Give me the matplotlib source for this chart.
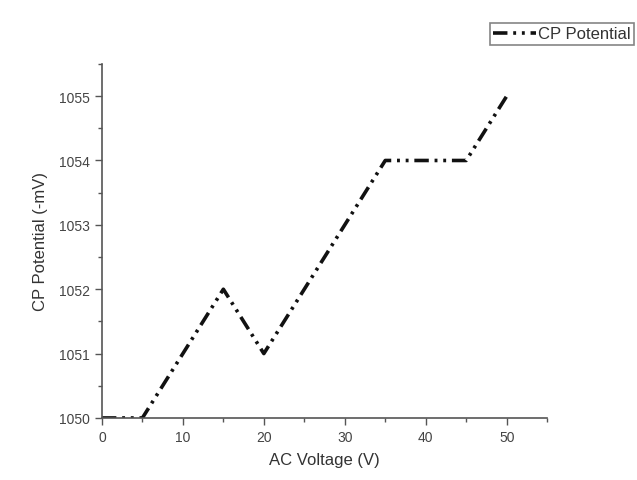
import matplotlib.pyplot as plt
from matplotlib.ticker import MultipleLocator

plt.rcParams['font.family'] = ['Liberation Sans', 'DejaVu Sans']

# data
ac_voltage = [0, 5, 15, 20, 35, 45, 50]
cp_potential = [1050, 1050, 1052, 1051, 1054, 1054, 1055]

fig = plt.figure(figsize=(6.37, 4.81), dpi=100)
ax = fig.add_axes([0.160, 0.129, 0.699, 0.736])

line, = ax.plot(ac_voltage, cp_potential, color='#111111', lw=2.6,
                linestyle=(0, (4, 1.6, 0.8, 1.6, 0.8, 1.6)), label='CP Potential')

ax.set_xlim(0, 55)
ax.set_ylim(1050, 1055.5)
ax.xaxis.set_major_locator(MultipleLocator(10))
ax.xaxis.set_minor_locator(MultipleLocator(5))
ax.yaxis.set_major_locator(MultipleLocator(1))
ax.yaxis.set_minor_locator(MultipleLocator(0.5))
ax.yaxis.set_major_formatter(plt.FuncFormatter(lambda v, p: '%d' % v))

for s in ['top', 'right']:
    ax.spines[s].set_visible(False)
for s in ['left', 'bottom']:
    ax.spines[s].set_color('#555555')
    ax.spines[s].set_linewidth(1.2)

ax.tick_params(which='major', length=5, width=1, color='#555555',
               labelsize=10, labelcolor='#444444')
ax.tick_params(which='minor', length=3, width=1, color='#555555')

ax.set_xlabel('AC Voltage (V)', fontsize=12, color='#333333', labelpad=6)
ax.set_ylabel('CP Potential (-mV)', fontsize=12, color='#333333', labelpad=8)

leg = fig.legend(handles=[line], loc='upper right', bbox_to_anchor=(0.995, 0.95),
                 fontsize=12, frameon=True, fancybox=False, handlelength=2.6,
                 handletextpad=0.1, borderpad=0.2, borderaxespad=0)
leg.get_frame().set_edgecolor('#666666')
leg.get_frame().set_linewidth(1.2)
for t in leg.get_texts():
    t.set_color('#333333')

fig.savefig('out.png', dpi=100)
